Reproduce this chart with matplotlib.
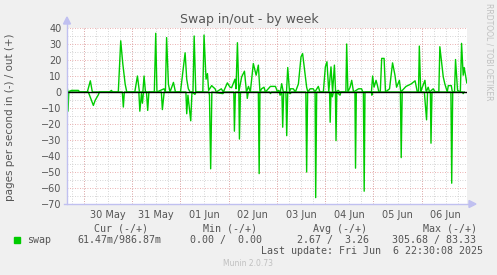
# Munin "Swap in/out - by week" graph redrawn with matplotlib
import numpy as np
import matplotlib.pyplot as plt

# time in hours since 2025-05-30 00:00
out_hours = [-8.3, -7.9, -6.1, -2.6, -2.1, 1.8, 3.3, 4.3, 12.8, 13.8, 14.3,
             17.2, 18.4, 19.4, 20.6, 21.4, 25.4, 26.7, 27.7, 29.4, 30.0, 30.7,
             35.1, 35.8, 36.4, 39.9, 40.6, 41.2, 42.1, 42.9, 44.6, 45.6,
             48.1, 50.4, 51.2, 52.0, 52.9, 54.3, 54.9, 55.7,
             59.2, 59.8, 60.8, 61.5, 62.1, 63.6, 64.4, 65.3, 65.9, 68.4, 69.4,
             71.4, 72.7, 73.5, 75.2, 75.7, 76.4, 77.1, 78.5, 79.9, 80.9, 81.9, 82.8,
             84.3, 85.7, 86.8, 87.6, 88.4, 89.6, 90.3, 92.8, 95.3, 96.3, 96.8, 97.7,
             98.4, 99.2, 100.8, 101.4, 102.3, 102.7, 104.2, 105.2,
             106.7, 108.0, 108.8, 109.8, 110.8, 111.4, 112.5, 114.1, 114.9, 116.6, 117.4,
             119.1, 120.1, 120.9, 121.8, 122.9, 123.7, 124.6, 125.2, 126.6, 127.1,
             130.3, 130.7, 131.3, 132.4, 133.2, 134.1, 136.6, 138.1, 138.7,
             143.0, 143.6, 144.3, 145.3, 146.0, 146.7, 147.4, 148.1, 149.3, 150.0,
             152.0, 153.5, 154.7, 155.5, 156.9, 157.6, 160.2, 162.7, 164.7, 165.8,
             166.4, 166.8, 167.5, 168.0, 169.6, 170.2, 171.2, 171.9, 173.7, 174.7,
             176.5, 177.0, 178.7, 179.5, 180.7, 181.2, 182.7, 183.2,
             184.3, 184.8, 185.8, 187.2, 187.8, 188.6, 189.1, 190.4]
swap_out = [4, 0, 1, 1, 0, 0, 7, 0, 0, 1, 0,
            0, 32, 18, 5, 0, 0, 10, 0, 0, 10, 0,
            0, 36.7, 0, 2, 0, 34, 5, 0, 6, 0,
            0, 24.5, 8, 2, 0, 0, 35, 0,
            0, 35.6, 8, 11.5, 1, 4, 3, 2, 0, 2, 0,
            5.7, 3, 2.7, 8, 2, 30.8, 0, 9.4, 13, 0, 3.5, 0,
            17.8, 10.5, 16.8, 0, 2, 3, 0, 3.5, 3.5, 0, 1, 0,
            5.2, 0, 0, 15.3, 0, 2, 2, 0,
            5, 22, 24, 13.6, 3, 0, 2, 2, 0, 3.5, 0,
            0, 15.7, 18.9, 0, 15.7, 0, 16.8, 0, 1, 0,
            0, 30, 0, 3, 7.3, 0, 2, 2, 0,
            0, 10, 3, 7.3, 4, 0, 0, 21, 21, 0,
            2, 18.2, 10.5, 3, 7.3, 0, 3.5, 5, 7, 0,
            0, 28.7, 0, 2, 7.3, 0, 3, 0, 2, 0,
            0, 28.3, 9.4, 5, 0, 4, 4, 0,
            0, 20.3, 1, 0, 30.4, 10.5, 15.3, 5.7]

in_hours = [-8.1, -7.8, -7.4, 2.3, 4.8, 5.7, 7.3, 7.8, 19.2, 19.7, 20.2,
            27.4, 27.9, 28.7, 29.2, 29.7, 31.2, 31.8, 32.4, 38.6, 39.1, 40.0,
            50.8, 51.2, 51.8, 53.2, 53.8, 55.3, 55.8, 62.2, 62.5, 63.1, 63.7,
            69.2, 69.7, 74.6, 74.9, 75.4, 77.1, 77.4, 77.9, 81.1, 81.3, 81.8,
            86.8, 87.2, 87.6, 92.5, 92.8, 93.3, 97.2, 97.6, 98.5, 98.9, 99.4,
            100.5, 100.9, 101.4, 102.7, 103.2, 110.4, 110.8, 111.3,
            115.0, 115.3, 115.8, 122.2, 122.5, 122.9, 123.6, 124.1,
            125.1, 125.4, 125.8, 127.4, 127.8, 134.8, 135.1, 135.5,
            139.0, 139.4, 139.8, 143.0, 143.2, 143.5, 157.4, 157.8, 158.3,
            169.3, 170.4, 170.9, 172.3, 172.6, 173.1, 182.5, 182.9, 183.4,
            188.4, 188.6, 189.1]
swap_in = [0, 12, 0, 0, 8.4, 5.2, 1.7, 0, 0, 9.4, 0,
           0, 12, 1, 7, 0, 0, 11.5, 0, 0, 11, 0,
           0, 13.6, 2, 18, 0, 1.5, 0, 0, 2, 48, 0,
           1, 0, 0, 24.5, 0, 0, 29.4, 0, 0, 4, 0,
           0, 51, 0, 0, 1, 0, 0, 2, 0, 22, 0,
           0, 27.3, 0, 1, 0, 0, 50, 0,
           0, 66, 0, 0, 18.9, 0, 3, 0,
           0, 30.4, 0, 2, 0, 0, 47.6, 0,
           0, 62, 0, 0, 2, 0, 0, 41, 0,
           0, 17.4, 0, 0, 32, 0, 0, 57, 0,
           0, 1, 0]

day_labels = ["30 May", "31 May", "01 Jun", "02 Jun", "03 Jun", "04 Jun", "05 Jun", "06 Jun"]

W, H = 497, 275
fig = plt.figure(figsize=(W / 100, H / 100), dpi=100, facecolor="#F0F0F0")
ax = fig.add_axes([67 / W, 1 - 204 / H, 400 / W, 176 / H], facecolor="white")

x0, x1 = -8.3, 190.5
ax.set_xlim(x0, x1)
ax.set_ylim(-70, 40)

# grid: minor gray, major red (munin style)
for h in np.arange(-6, x1, 6):
    ax.axvline(h, color="#C8C8C8", lw=0.6, ls=(0, (1, 2)), zorder=1)
for v in np.arange(-65, 40, 10):
    ax.axhline(v, color="#C8C8C8", lw=0.6, ls=(0, (1, 2)), zorder=1)
for h in np.arange(0, x1, 24):
    ax.axvline(h, color="#E49898", lw=0.6, ls=(0, (1, 2)), zorder=1.5)
for v in np.arange(-70, 41, 10):
    ax.axhline(v, color="#E49898", lw=0.6, ls=(0, (1, 2)), zorder=1.5)

ax.plot(out_hours, swap_out, color="#00CC00", lw=1.0, zorder=3)
ax.plot(in_hours, -np.array(swap_in), color="#00CC00", lw=1.0, zorder=3)
ax.axhline(0, color="black", lw=1.0, zorder=4)

ax.set_yticks(np.arange(-70, 41, 10))
ax.set_xticks(np.arange(12, 12 + 24 * len(day_labels), 24))
ax.set_xticklabels(day_labels)
ax.tick_params(length=0, labelsize=7, colors="#555555", pad=4)
for s in ax.spines.values():
    s.set_visible(False)

# rrdtool-style axes with arrows
axcol = "#C0C0F0"
fig.add_artist(plt.Line2D([67 / W, 67 / W], [1 - 204 / H, 1 - 22 / H], color=axcol, lw=1))
fig.add_artist(plt.Line2D([64 / W, 472 / W], [1 - 204 / H, 1 - 204 / H], color=axcol, lw=1))
fig.add_artist(plt.Polygon([[63.5 / W, 1 - 24 / H], [70.5 / W, 1 - 24 / H], [67 / W, 1 - 17 / H]],
                           closed=True, color=axcol, transform=fig.transFigure))
fig.add_artist(plt.Polygon([[469 / W, 1 - 200.5 / H], [469 / W, 1 - 207.5 / H], [476 / W, 1 - 204 / H]],
                           closed=True, color=axcol, transform=fig.transFigure))

fig.text(249 / W, 1 - 19.5 / H, "Swap in/out - by week", ha="center", va="center",
         fontsize=9, color="#555555")
fig.text(10 / W, 1 - 117 / H, "pages per second in (-) / out (+)", rotation=90,
         ha="center", va="center", fontsize=7.5, color="#555555")
fig.text(489 / W, 1 - 52 / H, "RRDTOOL / TOBI OETIKER", rotation=270,
         ha="center", va="center", fontsize=5.5, color="#C0C0C0")

mono = dict(family="DejaVu Sans Mono", fontsize=7.2, color="#555555", va="center")
fig.text(94 / W, 1 - 228.5 / H, "Cur (-/+)", ha="left", **mono)
fig.text(203 / W, 1 - 228.5 / H, "Min (-/+)", ha="left", **mono)
fig.text(313 / W, 1 - 228.5 / H, "Avg (-/+)", ha="left", **mono)
fig.text(423 / W, 1 - 228.5 / H, "Max (-/+)", ha="left", **mono)
fig.add_artist(plt.Rectangle((14 / W, 1 - 243 / H), 6 / W, 6 / H, color="#00CC00",
                             transform=fig.transFigure))
fig.text(27 / W, 1 - 240 / H, "swap", ha="left", **mono)
fig.text(77 / W, 1 - 240 / H, "61.47m/986.87m", ha="left", **mono)
fig.text(190 / W, 1 - 240 / H, "0.00 /  0.00", ha="left", **mono)
fig.text(297 / W, 1 - 240 / H, "2.67 /  3.26", ha="left", **mono)
fig.text(392 / W, 1 - 240 / H, "305.68 / 83.33", ha="left", **mono)
fig.text(483 / W, 1 - 251.5 / H, "Last update: Fri Jun  6 22:30:08 2025", ha="right", **mono)
fig.text(248 / W, 1 - 264 / H, "Munin 2.0.73", ha="center", va="center",
         fontsize=5.5, color="#C0C0C0")

fig.savefig("out.png", dpi=100, facecolor=fig.get_facecolor())
